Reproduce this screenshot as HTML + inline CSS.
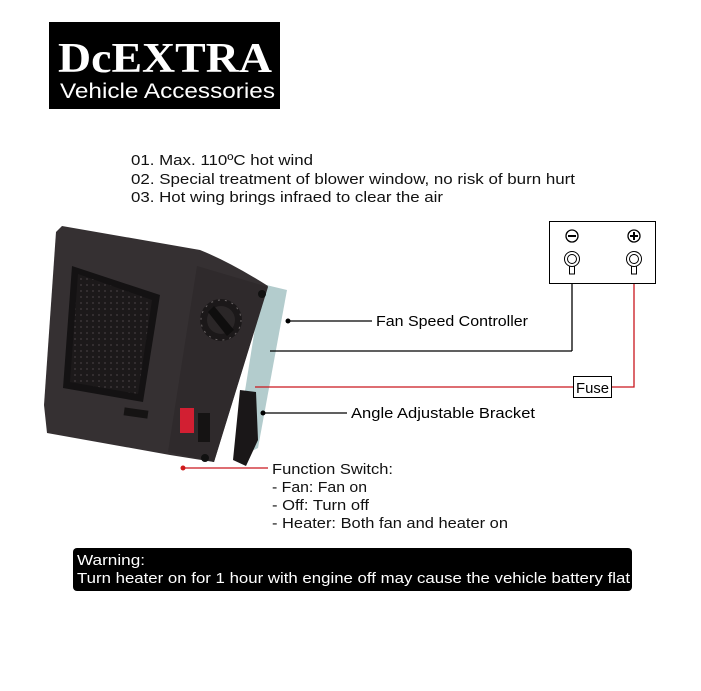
<!DOCTYPE html>
<html><head><meta charset="utf-8"><style>
html,body{margin:0;padding:0;background:#fff;}
body{width:701px;height:691px;overflow:hidden;position:relative;font-family:"Liberation Sans",sans-serif;}
</style></head><body>
<svg width="701" height="691" viewBox="0 0 701 691" xmlns="http://www.w3.org/2000/svg" style="position:absolute;left:0;top:0">
<defs>
<pattern id="dots" width="6" height="6" patternUnits="userSpaceOnUse">
<rect width="6" height="6" fill="#1c191a"/><circle cx="3" cy="3" r="1" fill="#3a3536"/>
</pattern>
</defs>
<!-- logo -->
<rect x="49" y="22" width="231" height="87" fill="#000"/>
<text x="58" y="72" font-family="Liberation Serif,serif" font-weight="bold" font-size="42" fill="#fff" textLength="214" lengthAdjust="spacingAndGlyphs">DcEXTRA</text>
<text x="60" y="98" font-family="Liberation Sans,sans-serif" font-size="21" fill="#fff" textLength="215" lengthAdjust="spacingAndGlyphs">Vehicle Accessories</text>

<!-- features -->
<g font-size="15" fill="#111">
<text x="131" y="165" textLength="182" lengthAdjust="spacingAndGlyphs">01. Max. 110ºC hot wind</text>
<text x="131" y="184" textLength="444" lengthAdjust="spacingAndGlyphs">02. Special treatment of blower window, no risk of burn hurt</text>
<text x="131" y="202" textLength="312" lengthAdjust="spacingAndGlyphs">03. Hot wing brings infraed to clear the air</text>
</g>

<!-- heater -->
<path d="M180 258 Q186 248 200 252" stroke="#222" stroke-width="3" fill="none"/>
<polygon points="262,284 287,290 258,448 234,460" fill="#b3cccd"/>
<path d="M62,226 L200,250 Q230,262 268,286 L214,462 L170,455 L47,433 L44,405 L56,232 Z" fill="#353032"/>
<polygon points="72,266 160,295 143,402 63,388" fill="#141213"/>
<polygon points="78,274 152,300 138,394 70,382" fill="url(#dots)"/>
<polygon points="197,266 268,287 214,462 168,452" fill="#2f2a2c"/>
<circle cx="221" cy="320" r="21" fill="#1b1819"/>
<circle cx="221" cy="320" r="20" fill="none" stroke="#6a6465" stroke-width="1" stroke-dasharray="2 5"/>
<circle cx="221" cy="320" r="14" fill="#2a2627"/>
<polygon points="208,312 214,306 234,330 227,336" fill="#0f0e0e"/>
<circle cx="262" cy="294" r="4" fill="#111"/>
<circle cx="205" cy="458" r="4" fill="#111"/>
<rect x="124" y="409" width="24" height="8" fill="#151313" transform="rotate(8 136 413)"/>
<rect x="180" y="408" width="14" height="25" fill="#d21f32"/>
<rect x="198" y="413" width="12" height="29" fill="#151313"/>
<polygon points="240,390 256,392 258,440 246,466 233,460" fill="#1a1718"/>

<!-- wires -->
<line x1="270" y1="351" x2="572" y2="351" stroke="#000" stroke-width="1.3"/>
<line x1="572" y1="266" x2="572" y2="351" stroke="#000" stroke-width="1.3"/>
<polyline points="255,387 573,387" stroke="#c9161d" stroke-width="1.3" fill="none"/>
<polyline points="611,387 634,387 634,266" stroke="#c9161d" stroke-width="1.3" fill="none"/>
<rect x="573.5" y="376.5" width="38" height="21" fill="#fff" stroke="#000"/>
<text x="576" y="393" font-size="15" textLength="33" lengthAdjust="spacingAndGlyphs">Fuse</text>

<!-- battery -->
<rect x="549.5" y="221.5" width="106" height="62" fill="#fff" stroke="#000"/>
<circle cx="572" cy="236" r="6" fill="none" stroke="#000" stroke-width="1.3"/>
<line x1="568" y1="236" x2="576" y2="236" stroke="#000" stroke-width="2"/>
<circle cx="634" cy="236" r="6" fill="none" stroke="#000" stroke-width="1.3"/>
<line x1="630" y1="236" x2="638" y2="236" stroke="#000" stroke-width="2"/>
<line x1="634" y1="232" x2="634" y2="240" stroke="#000" stroke-width="2"/>
<g fill="#fff" stroke="#000" stroke-width="1">
<rect x="569.5" y="264" width="5" height="10"/>
<circle cx="572" cy="259" r="7.5"/><circle cx="572" cy="259" r="4.5"/>
<rect x="631.5" y="264" width="5" height="10"/>
<circle cx="634" cy="259" r="7.5"/><circle cx="634" cy="259" r="4.5"/>
</g>

<!-- callouts -->
<circle cx="288" cy="321" r="2.5" fill="#000"/>
<line x1="288" y1="321" x2="372" y2="321" stroke="#000" stroke-width="1.2"/>
<text x="376" y="326" font-size="15" textLength="152" lengthAdjust="spacingAndGlyphs">Fan Speed Controller</text>
<circle cx="263" cy="413" r="2.5" fill="#000"/>
<line x1="263" y1="413" x2="347" y2="413" stroke="#000" stroke-width="1.2"/>
<text x="351" y="418" font-size="15" textLength="184" lengthAdjust="spacingAndGlyphs">Angle Adjustable Bracket</text>
<circle cx="183" cy="468" r="2.5" fill="#d01b1b"/>
<line x1="183" y1="468" x2="268" y2="468" stroke="#c9161d" stroke-width="1.2"/>
<g font-size="15" fill="#111">
<text x="272" y="474" textLength="121" lengthAdjust="spacingAndGlyphs">Function Switch:</text>
<text x="272" y="492" textLength="95" lengthAdjust="spacingAndGlyphs">- Fan: Fan on</text>
<text x="272" y="510" textLength="97" lengthAdjust="spacingAndGlyphs">- Off: Turn off</text>
<text x="272" y="528" textLength="236" lengthAdjust="spacingAndGlyphs">- Heater: Both fan and heater on</text>
</g>

<!-- warning -->
<rect x="73" y="548" width="559" height="43" rx="4" fill="#000"/>
<text x="77" y="565" font-size="15" fill="#fff" textLength="68" lengthAdjust="spacingAndGlyphs">Warning:</text>
<text x="77" y="583" font-size="15" fill="#fff" textLength="553" lengthAdjust="spacingAndGlyphs">Turn heater on for 1 hour with engine off may cause the vehicle battery flat</text>
</svg>
</body></html>
